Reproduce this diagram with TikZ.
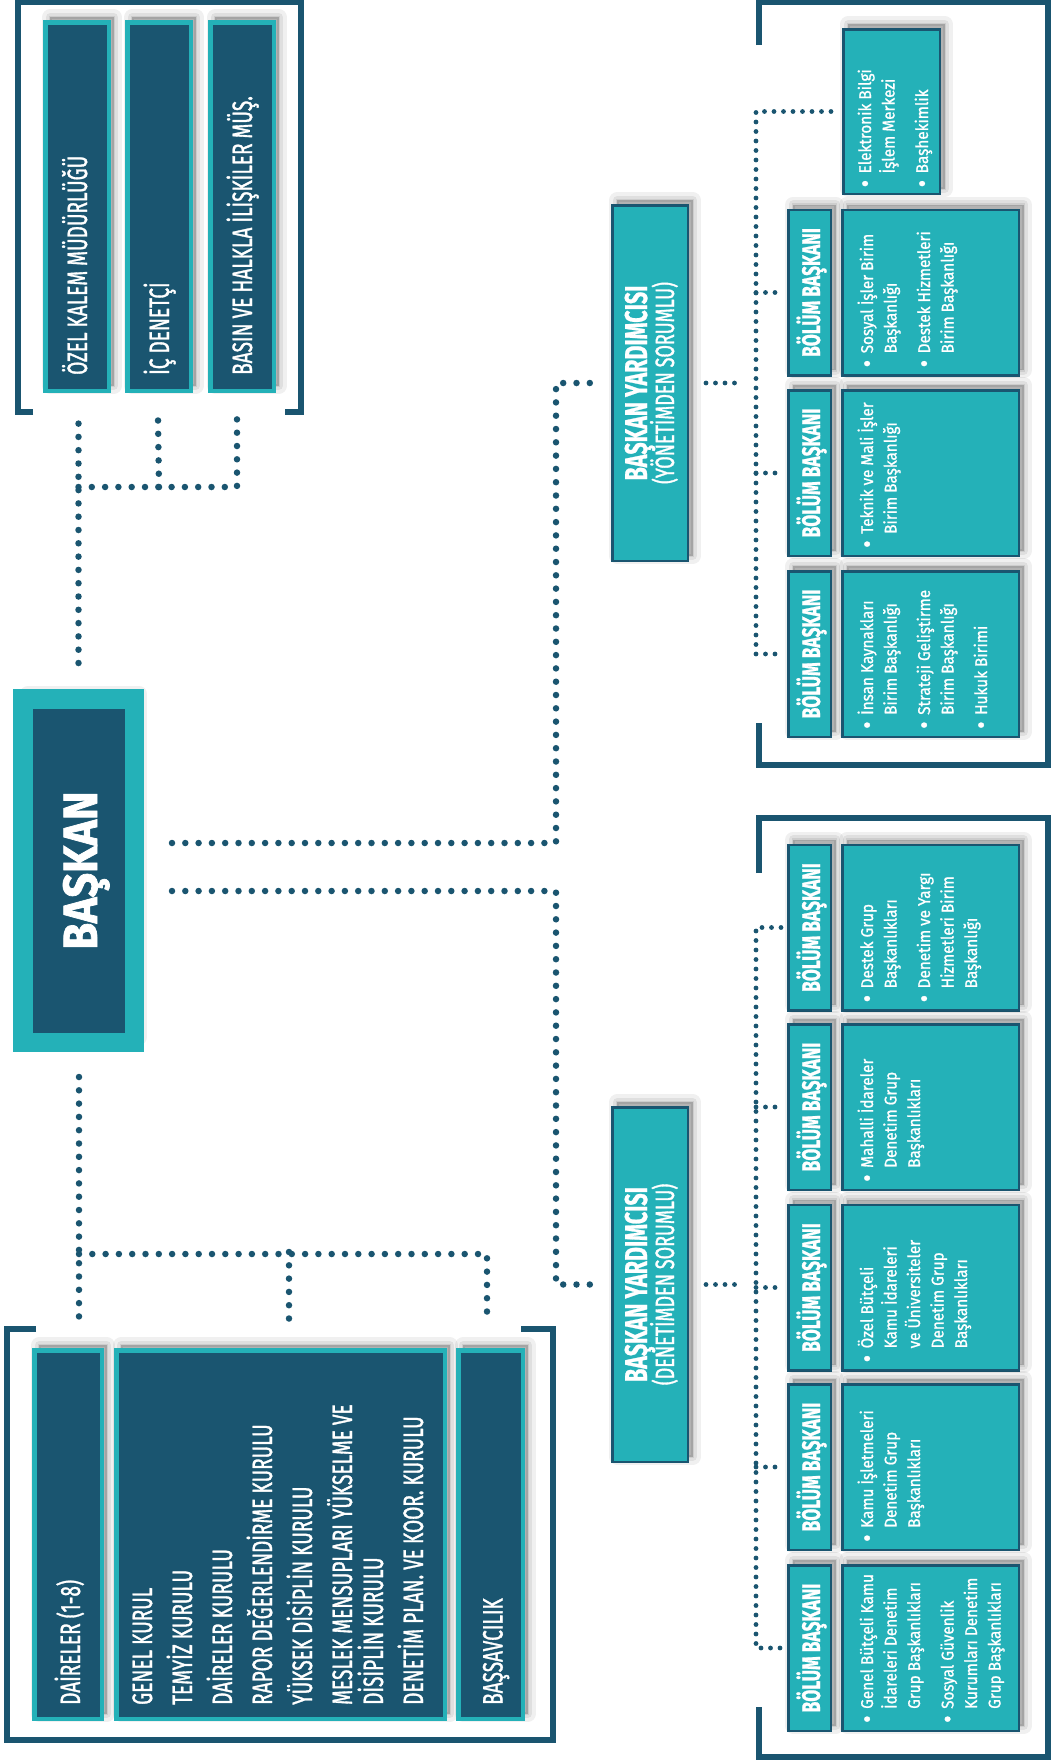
\documentclass[tikz,border=0pt]{standalone}
\usepackage{fontspec}
\usepackage{graphicx}
\setmainfont{Fira Sans}
\newfontfamily\condf[FakeStretch=0.68,FakeBold=1.2]{Fira Sans}
\newfontfamily\condb[FakeStretch=0.68,FakeBold=0.8]{Fira Sans}
\newfontfamily\itemf[FakeStretch=0.9,FakeBold=1]{Fira Sans}
\newfontfamily\headf[FakeStretch=0.9,FakeBold=1.5]{Fira Sans}
\usetikzlibrary{calc,positioning}
\definecolor{dkblue}{HTML}{1A5570}
\definecolor{tealc}{HTML}{24B1B8}
\newcommand{\blt}[1]{\makebox[14pt][l]{\raisebox{-2.8pt}{\scalebox{1.5}{\textbullet}}}\begin{tabular}[t]{@{}l@{}}#1\end{tabular}}
\newcommand{\blist}[1]{\begin{tabular}[t]{@{}l@{}}#1\end{tabular}}
\newcommand{\igap}{\\\noalign{\vskip10pt}}

\begin{document}
\begin{tikzpicture}[x=1pt,y=-1pt,
  shd/.style={
    preaction={fill=black,draw=black,opacity=.06,line width=16pt,line join=round,transform canvas={shift={(5pt,5pt)}}},
    preaction={fill=black,draw=black,opacity=.07,line width=9pt,line join=round,transform canvas={shift={(5pt,5pt)}}},
    preaction={fill=black,draw=black,opacity=.08,line width=3pt,transform canvas={shift={(5pt,5pt)}}}},
  darkbox/.style={shd,fill=dkblue,draw=tealc,line width=4.5pt,inner sep=0pt},
  lightbox/.style={shd,fill=tealc,draw=dkblue,line width=2.5pt,inner sep=0pt},
  bbbox/.style={lightbox,minimum width=42.5pt,minimum height=165.5pt},
  cbox/.style={lightbox,minimum width=176.5pt,minimum height=165.5pt},
  dtxt/.style={rotate=90,anchor=base west,inner sep=0pt,text=white,font=\condf\fontsize{28}{31}\selectfont},
  itxt/.style={rotate=90,anchor=base west,inner sep=0pt,text=white,font=\itemf\fontsize{17}{23.5}\selectfont},
  bbtxt/.style={rotate=90,anchor=base,inner sep=0pt,text=white,font=\condb\bfseries\fontsize{25.5}{25.5}\selectfont},
  bigdots/.style={draw=dkblue,line width=6.5pt,line cap=round,dash pattern=on 0pt off 13.3pt},
  smalldots/.style={draw=dkblue,line width=4.8pt,line cap=round,dash pattern=on 0pt off 9.5pt},
  brk/.style={draw=dkblue,line width=6pt}]

\useasboundingbox (0,0) rectangle (1051,1764);
\fill[white] (0,0) rectangle (1051,1764);

% brackets
\draw[brk] (33,412) -- (17.5,412) -- (17.5,1.5) -- (300.5,1.5) -- (300.5,412) -- (285,412);
\draw[brk] (36,1329) -- (6.5,1329) -- (6.5,1740) -- (553,1740) -- (553,1329) -- (521,1329);
\draw[brk] (759,45) -- (759,1.5) -- (1048,1.5) -- (1048,765) -- (759,765) -- (759,723);
\draw[brk] (759,873) -- (759,818) -- (1048,818) -- (1048,1757) -- (759,1757) -- (759,1707);

% baskan
\node[darkbox,line width=19.5pt,minimum width=111.5pt,minimum height=343.5pt] (bask) at (78.5,870.5) {};
\node[rotate=90,anchor=base,inner sep=0pt,text=white,font=\headf\bfseries\fontsize{48}{48}\selectfont] (tbask) at ($(bask.center)+(18.5,0)$) {BAŞKAN};

% ust birimler
\foreach \nm/\xc/\tx in {ozel/77/ÖZEL KALEM MÜDÜRLÜĞÜ,icd/159/İÇ DENETÇİ,basin/242/BASIN VE HALKLA İLİŞKİLER MÜŞ.}{
  \node[darkbox,minimum width=63.5pt,minimum height=368.5pt] (\nm) at (\xc,206.5) {};
  \node[dtxt] (t\nm) at ($(\nm.south)+(10,-18)$) {\tx};
}

% kurullar
\node[darkbox,minimum width=67.5pt,minimum height=368.5pt] (dair) at (68,1534.5) {};
\node[darkbox,minimum width=328.5pt,minimum height=368.5pt] (kurul) at (280.5,1534.5) {};
\node[darkbox,minimum width=64.5pt,minimum height=368.5pt] (bsavci) at (490.5,1534.5) {};
\node[dtxt] (tdair) at ($(dair.south)+(12,-16)$) {DAİRELER (1-8)};
\node[dtxt] (tbsavci) at ($(bsavci.south)+(12,-16)$) {BAŞSAVCILIK};
\node[dtxt] (tkurul) at ($(kurul.south west)+(38,-16)$) {\blist{\smash{GENEL KURUL}\\[9pt]\smash{TEMYİZ KURULU}\\[9pt]\smash{DAİRELER KURULU}\\[9pt]\smash{RAPOR DEĞERLENDİRME KURULU}\\[9pt]\smash{YÜKSEK DİSİPLİN KURULU}\\[9pt]\smash{MESLEK MENSUPLARI YÜKSELME VE}\\\smash{DİSİPLİN KURULU}\\[9pt]\smash{DENETİM PLAN. VE KOOR. KURULU}}};

% baskan yardimcilari
\node[lightbox,minimum width=75.5pt,minimum height=355.5pt] (byY) at (650,383) {};
\node[lightbox,minimum width=75.5pt,minimum height=354.5pt] (byD) at (650,1284.5) {};
\foreach \nm/\tx in {byY/YÖNETİMDEN,byD/DENETİMDEN}{
  \node[rotate=90,anchor=base,inner sep=0pt,text=white,font=\condf\fontsize{26.5}{27}\selectfont] (t\nm) at ($(\nm.center)+(-3,0)$)
    {\begin{tabular}[t]{@{}c@{}}\smash{\condb\bfseries\fontsize{31.5}{27}\selectfont BAŞKAN YARDIMCISI}\\\smash{(\tx{} SORUMLU)}\end{tabular}};
}

% yonetim birimleri
\node[lightbox,minimum width=96.5pt,minimum height=164.5pt] (ebim) at (891.5,111.5) {};
\node[itxt] (tebim) at ($(ebim.south west)+(29,-7.5)$) {\blist{\blt{Elektronik Bilgi\\İşlem Merkezi}\igap\blt{Başhekimlik}}};
\foreach \i/\yc in {1/292.5,2/473,3/654}{
  \node[bbbox] (bbY\i) at (809.5,\yc) {};
  \node[bbtxt] (tbbY\i) at ($(bbY\i.center)+(10.5,0)$) {BÖLÜM BAŞKANI};
  \node[cbox] (cY\i) at (930.5,\yc) {};
}
\node[itxt] (tcY1) at ($(cY1.south west)+(32,-9)$) {\blist{\blt{Sosyal İşler Birim\\Başkanlığı}\igap\blt{Destek Hizmetleri\\Birim Başkanlığı}}};
\node[itxt] (tcY2) at ($(cY2.south west)+(32,-9)$) {\blist{\blt{Teknik ve Mali İşler\\Birim Başkanlığı}}};
\node[itxt] (tcY3) at ($(cY3.south west)+(32,-9)$) {\blist{\blt{İnsan Kaynakları\\Birim Başkanlığı}\igap\blt{Strateji Geliştirme\\Birim Başkanlığı}\igap\blt{Hukuk Birimi}}};

% denetim birimleri
\foreach \i/\yc in {1/927.5,2/1107,3/1287.5,4/1467,5/1648}{
  \node[bbbox] (bbD\i) at (809.5,\yc) {};
  \node[bbtxt] (tbbD\i) at ($(bbD\i.center)+(10.5,0)$) {BÖLÜM BAŞKANI};
  \node[cbox] (cD\i) at (930.5,\yc) {};
}
\node[itxt] (tcD1) at ($(cD1.south west)+(32,-9)$) {\blist{\blt{Destek Grup\\Başkanlıkları}\igap\blt{Denetim ve Yargı\\Hizmetleri Birim\\Başkanlığı}}};
\node[itxt] (tcD2) at ($(cD2.south west)+(32,-9)$) {\blist{\blt{Mahalli İdareler\\Denetim Grup\\Başkanlıkları}}};
\node[itxt] (tcD3) at ($(cD3.south west)+(32,-9)$) {\blist{\blt{Özel Bütçeli\\Kamu İdareleri\\ve Üniversiteler\\Denetim Grup\\Başkanlıkları}}};
\node[itxt] (tcD4) at ($(cD4.south west)+(32,-9)$) {\blist{\blt{Kamu İşletmeleri\\Denetim Grup\\Başkanlıkları}}};
\node[itxt] (tcD5) at ($(cD5.south west)+(32,-9)$) {\blist{\blt{Genel Bütçeli Kamu\\İdareleri Denetim\\Grup Başkanlıkları}\igap\blt{Sosyal Güvenlik\\Kurumları Denetim\\Grup Başkanlıkları}}};

% baglantilar: baskan
\coordinate (jt) at (78.5,487);
\coordinate (jb) at (79,1254);
\draw[bigdots] ($(bask.north)+(0,-26)$) -- ($(bask.north |- ozel.south)+(0,26)$);
\draw[bigdots] (jt) -| ($(basin.south)+(-5,26)$);
\draw[bigdots] (jt -| icd.south) -- ($(icd.south)+(-1,26)$);
\draw[bigdots] ($(bask.south)+(0.5,25)$) -- ($(bask.south |- dair.north)+(0.5,-28)$);
\draw[bigdots] (jb) -| ($(bsavci.north)+(-3.5,-28)$);
\draw[bigdots] ($(kurul.north)+(8.5,-96)$) -- ($(kurul.north)+(8.5,-28)$);
\draw[bigdots] ($(bask.east)+(28,-27.5)$) -| ($(byY.west)+(-55,0)$) -- ($(byY.west)+(-15,0)$);
\draw[bigdots] ($(bask.east)+(28,20.5)$) -| ($(byD.west)+(-55,0)$) -- ($(byD.west)+(-15,0)$);

% baglantilar: yardimcilar
\coordinate (vy) at (756,0);
\draw[smalldots] ($(byY.east)+(17,0)$) -- ($(byY.east)+(49,0)$);
\draw[smalldots] ($(ebim.west)+(-11,0)$) -- (vy |- ebim.west) -- (vy |- bbY3.west) -- ($(bbY3.west)+(-6,0)$);
\foreach \i in {1,2}
  \draw[smalldots] (vy |- bbY\i.west) -- ($(bbY\i.west)+(-6,0)$);
\draw[smalldots] ($(byD.east)+(17,0)$) -- ($(byD.east)+(49,0)$);
\draw[smalldots] ($(bbD1.west)+(-6,0)$) -- (vy |- bbD1.west) -- (vy |- bbD5.west) -- ($(bbD5.west)+(-6,0)$);
\foreach \i in {2,3,4}
  \draw[smalldots] (vy |- bbD\i.west) -- ($(bbD\i.west)+(-6,0)$);
\end{tikzpicture}
\end{document}
